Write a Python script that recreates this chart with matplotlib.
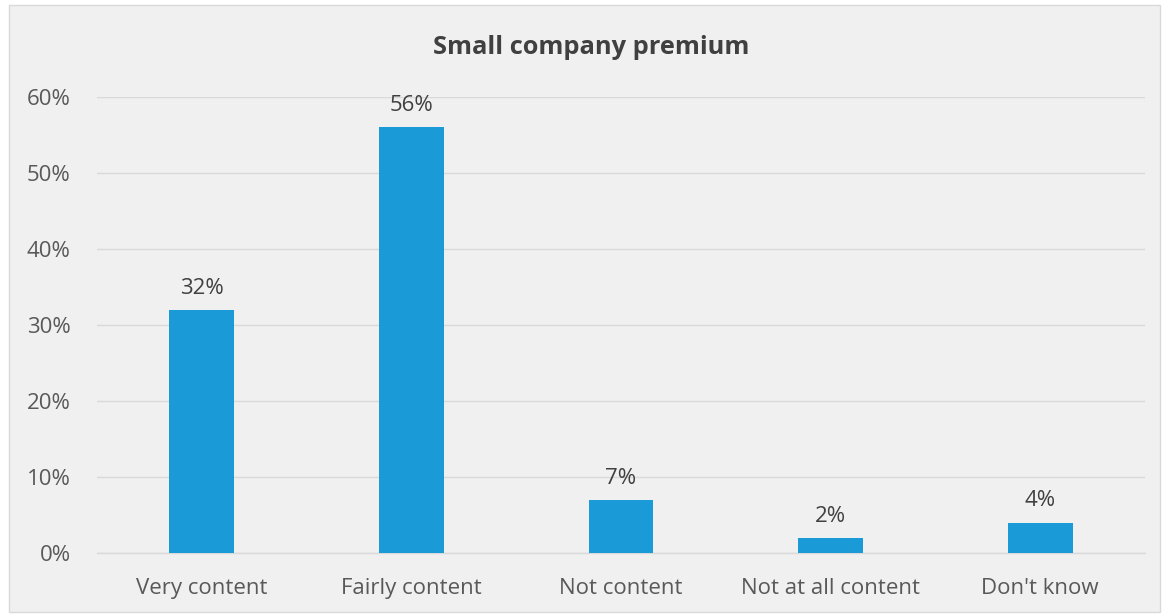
import matplotlib
matplotlib.use("Agg")
import matplotlib.pyplot as plt
from matplotlib.patches import Rectangle
from matplotlib.ticker import FuncFormatter

categories = ["Very content", "Fairly content", "Not content", "Not at all content", "Don't know"]
values = [32, 56, 7, 2, 4]
y_ticks = [0, 10, 20, 30, 40, 50, 60]

plt.rcParams["font.family"] = ["Open Sans", "DejaVu Sans"]

W, H = 1167, 615
fig = plt.figure(figsize=(W / 100, H / 100), dpi=100)
fig.patch.set_facecolor("white")

# chart area panel with thin border
fig.patches.append(Rectangle((9 / W, 1 - 612 / H), (1160 - 9) / W, (612 - 5) / H,
                             transform=fig.transFigure, facecolor="#f0f0f0",
                             edgecolor="#d9d9d9", linewidth=1, zorder=-10))

ax = fig.add_axes([97 / W, 1 - 553 / H, (1145 - 97) / W, (553 - 97) / H])
ax.set_facecolor("none")

x = range(len(categories))
bars = ax.bar(x, values, width=0.31, color="#1a9ad6", zorder=3)
ax.set_xlim(-0.5, len(categories) - 0.5)
ax.set_ylim(0, 60)
ax.set_yticks(y_ticks)
ax.yaxis.set_major_formatter(FuncFormatter(lambda v, p: f"{v:.0f}%"))
ax.set_xticks(list(x))
ax.set_xticklabels(categories)

ax.grid(axis="y", color="#d9d9d9", linewidth=1, zorder=0)
ax.axhline(0, color="#d9d9d9", linewidth=1, zorder=1, clip_on=False)
for s in ax.spines.values():
    s.set_visible(False)
ax.tick_params(axis="both", length=0, labelsize=16, labelcolor="#595959")
ax.tick_params(axis="y", pad=19)
ax.tick_params(axis="x", pad=18)

for b, v in zip(bars, values):
    ax.annotate(f"{v}%", (b.get_x() + b.get_width() / 2, v), xytext=(0, 8),
                textcoords="offset points", ha="center", va="bottom",
                fontsize=16, color="#404040")

fig.text(591 / W, 1 - 48 / H, "Small company premium", ha="center", va="center",
         fontsize=18.3, fontweight="bold", color="#404040")

fig.savefig("out.png", dpi=100)
